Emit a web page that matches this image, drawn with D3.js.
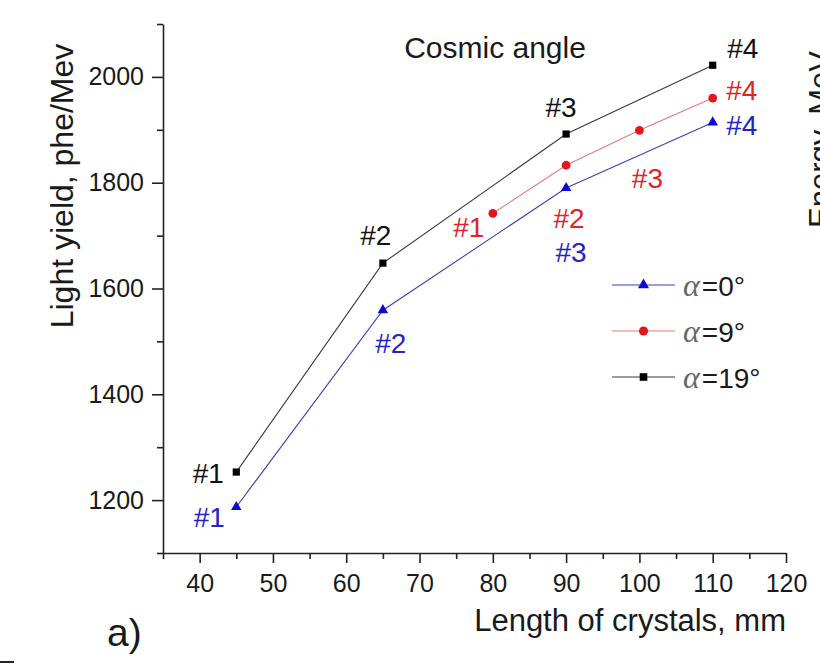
<!DOCTYPE html>
<html>
<head>
<meta charset="utf-8">
<script src="https://cdn.jsdelivr.net/npm/d3@7"></script>
<style>
  body { margin: 0; background: #fff; }
  text { font-family: "Liberation Sans", Arial, sans-serif; fill: #1a1a1a; }
</style>
</head>
<body>
<div id="chart"></div>
<script>
// crystal lengths (mm) and light yield (phe/MeV) per cosmic angle
const angles = [0, 9, 19];
const lengthsAlpha0 = [45, 65, 90, 110];
const yieldAlpha0 = [1187, 1559, 1790, 1914];
const lengthsAlpha9 = [80, 90, 100, 110];
const yieldAlpha9 = [1742, 1833, 1899, 1960];
const lengthsAlpha19 = [45, 65, 90, 110];
const yieldAlpha19 = [1253, 1648, 1892, 2022];
const crystalLabelsAlpha0 = ["#1", "#2", "#3", "#4"];
const crystalLabelsAlpha9 = ["#1", "#2", "#3", "#4"];
const crystalLabelsAlpha19 = ["#1", "#2", "#3", "#4"];

const xTicks = [40, 50, 60, 70, 80, 90, 100, 110, 120];
const xMinorTicks = [35, 45, 55, 65, 75, 85, 95, 105, 115];
const yTicks = [1200, 1400, 1600, 1800, 2000];
const yMinorTicks = [1100, 1300, 1500, 1700, 1900, 2100];

function buildChart() {
  const width = 820;
  const height = 665;
  const margin = { top: 24, right: 34, bottom: 112, left: 163 };

  const svg = d3
    .select("#chart")
    .append("svg")
    .attr("width", width)
    .attr("height", height);

  const xScale = d3
    .scaleLinear()
    .domain([35, 120])
    .range([margin.left, width - margin.right]);

  const yScale = d3
    .scaleLinear()
    .domain([1100, 2100])
    .range([height - margin.bottom, margin.top]);

  const series = [
    {
      angle: angles[0], xs: lengthsAlpha0, ys: yieldAlpha0, labels: crystalLabelsAlpha0,
      symbol: d3.symbolTriangle, size: 48, marker: "#0a0ad0", line: "#4040b8", text: "#2424c4",
      // label placement relative to each point: [dx, dy to baseline]
      offsets: [[-27, 20], [8, 43], [5, 74], [29, 13]]
    },
    {
      angle: angles[1], xs: lengthsAlpha9, ys: yieldAlpha9, labels: crystalLabelsAlpha9,
      symbol: d3.symbolCircle, size: 60, marker: "#e3161e", line: "#e27a7a", text: "#e0242a",
      offsets: [[-24, 24], [3, 63], [8, 58], [29, 2]]
    },
    {
      angle: angles[2], xs: lengthsAlpha19, ys: yieldAlpha19, labels: crystalLabelsAlpha19,
      symbol: d3.symbolSquare, size: 52, marker: "#000", line: "#3a3a3a", text: "#111",
      offsets: [[-28, 11], [-7, -18], [-5, -17], [30, -7]]
    }
  ];

  // axes
  const xAxis = g =>
    g
      .attr("transform", `translate(0,${yScale.range()[0]})`)
      .call(d3.axisBottom(xScale).tickValues(xTicks).tickSize(10).tickPadding(11).tickSizeOuter(0))
      .call(g => g.selectAll("text").attr("font-size", 25).style("fill", "#1a1a1a"));

  const xMinor = g =>
    g
      .attr("transform", `translate(0,${yScale.range()[0]})`)
      .call(d3.axisBottom(xScale).tickValues(xMinorTicks).tickSize(6).tickFormat("").tickSizeOuter(0))
      .call(g => g.select(".domain").remove());

  const yAxis = g =>
    g
      .attr("transform", `translate(${margin.left},0)`)
      .call(d3.axisLeft(yScale).tickValues(yTicks).tickFormat(d3.format("d")).tickSize(11).tickPadding(8).tickSizeOuter(0))
      .call(g => g.selectAll("text").attr("font-size", 25).style("fill", "#1a1a1a"));

  const yMinor = g =>
    g
      .attr("transform", `translate(${margin.left},0)`)
      .call(d3.axisLeft(yScale).tickValues(yMinorTicks).tickSize(6).tickFormat("").tickSizeOuter(0))
      .call(g => g.select(".domain").remove());

  svg.append("g").call(xMinor);
  svg.append("g").call(yMinor);
  svg.append("g").call(xAxis);
  svg.append("g").call(yAxis);

  svg.selectAll(".domain, .tick line").attr("stroke", "#222").attr("stroke-width", 1.6);
  svg.selectAll(".tick text").attr("font-family", null);

  // series lines and markers
  const line = d3.line().x(d => xScale(d.x)).y(d => yScale(d.y));

  series.forEach(s => {
    const pts = s.xs.map((x, i) => ({ x, y: s.ys[i], label: s.labels[i], off: s.offsets[i] }));

    svg.append("path")
      .datum(pts)
      .attr("d", line)
      .attr("fill", "none")
      .attr("stroke", s.line)
      .attr("stroke-width", 1.1);

    svg.append("g")
      .selectAll("path")
      .data(pts)
      .join("path")
      .attr("transform", d => `translate(${xScale(d.x)},${yScale(d.y)})`)
      .attr("d", d3.symbol().type(s.symbol).size(s.size))
      .attr("fill", s.marker);

    svg.append("g")
      .selectAll("text")
      .data(pts)
      .join("text")
      .attr("x", d => xScale(d.x) + d.off[0])
      .attr("y", d => yScale(d.y) + d.off[1])
      .attr("text-anchor", "middle")
      .attr("font-size", 28)
      .style("fill", s.text)
      .text(d => d.label);
  });

  // legend
  const legend = svg.append("g").attr("transform", "translate(612,285)");
  series.forEach((s, i) => {
    const row = legend.append("g").attr("transform", `translate(0,${i * 46})`);
    row.append("line")
      .attr("x1", 0).attr("x2", 63)
      .attr("stroke", s.line).attr("stroke-width", 1.1);
    row.append("path")
      .attr("transform", "translate(31.5,0)")
      .attr("d", d3.symbol().type(s.symbol).size(s.size + 6))
      .attr("fill", s.marker);
    const t = row.append("text").attr("x", 71).attr("y", 11).attr("font-size", 28);
    t.append("tspan")
      .attr("font-family", "'Liberation Serif', serif")
      .attr("font-style", "italic")
      .attr("font-size", 32)
      .style("fill", "#666")
      .text("α");
    t.append("tspan").attr("dx", 2).text(`=${s.angle}°`);
  });

  // titles
  svg.append("text")
    .attr("x", 495)
    .attr("y", 58)
    .attr("text-anchor", "middle")
    .attr("font-size", 30)
    .text("Cosmic angle");

  svg.append("text")
    .attr("x", xScale.range()[1])
    .attr("y", 631)
    .attr("text-anchor", "end")
    .attr("font-size", 31)
    .text("Length of crystals, mm");

  svg.append("text")
    .attr("transform", "translate(73,186) rotate(-90)")
    .attr("text-anchor", "middle")
    .attr("font-size", 32)
    .text("Light yield, phe/Mev");

  svg.append("text")
    .attr("x", 107)
    .attr("y", 646)
    .attr("font-size", 39)
    .text("a)");

  // edge of the neighbouring panel, cut by the frame as in the source
  svg.append("text")
    .attr("transform", "translate(831,228) rotate(-90)")
    .attr("font-size", 31)
    .text("Energy, MeV");

  svg.append("line")
    .attr("x1", 0).attr("x2", 14)
    .attr("y1", 662).attr("y2", 662)
    .attr("stroke", "#222").attr("stroke-width", 2);
}

buildChart();
</script>
</body>
</html>
